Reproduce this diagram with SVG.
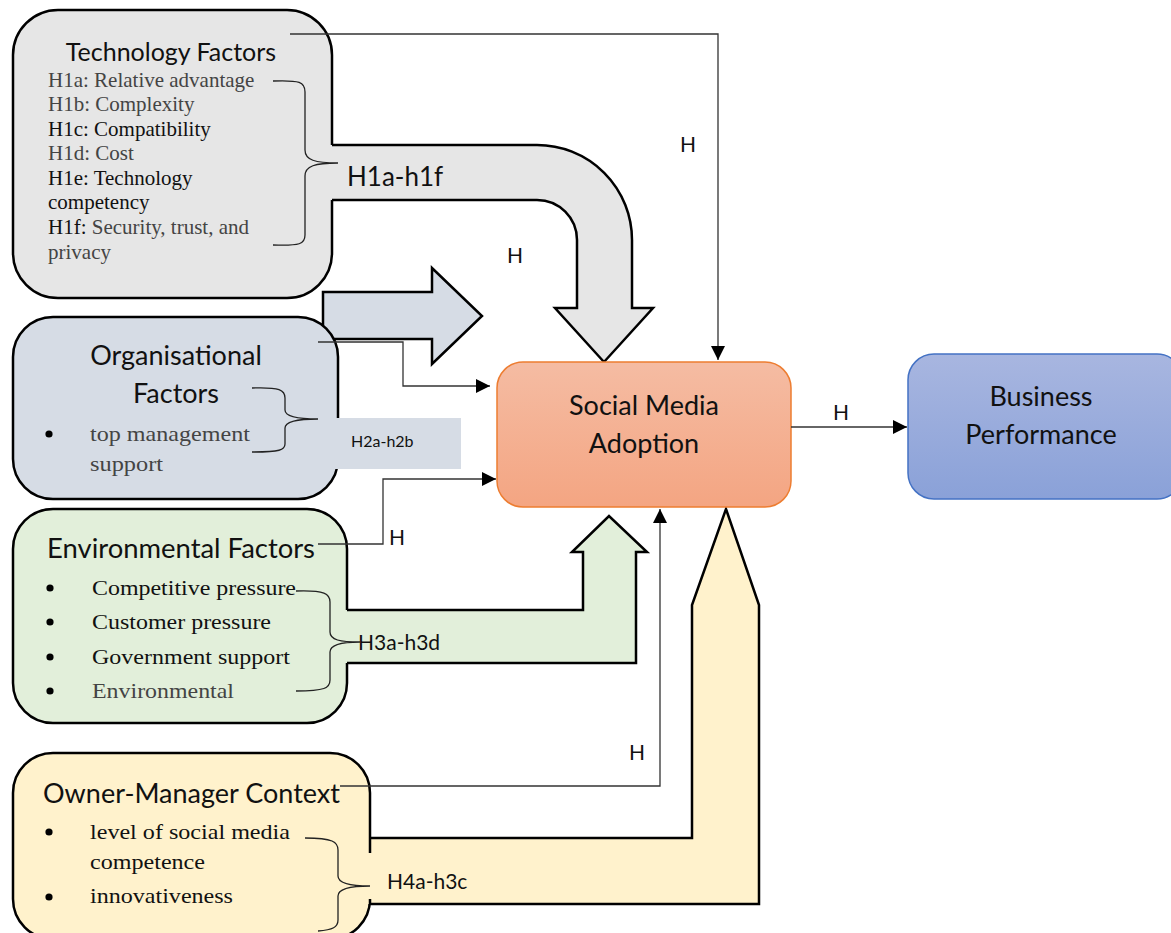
<svg xmlns="http://www.w3.org/2000/svg" width="1171" height="933" viewBox="0 0 1171 933">
<style>
.box{stroke:#000;stroke-width:2.5}
.blk{stroke:#000;stroke-width:2.5;fill:none;stroke-linejoin:miter}
.brace{fill:none;stroke:#222;stroke-width:1.3}
.conn{fill:none;stroke:#333;stroke-width:1.3}
.t{font-family:Lato,"Liberation Sans",sans-serif;fill:#111}
.s{font-family:"Liberation Serif","Times New Roman",serif;font-size:21px;fill:#111}
.s2{font-family:"Liberation Serif","Times New Roman",serif;font-size:22px;fill:#111}
.g{fill:#444}
.lab{font-family:Lato,"Liberation Sans",sans-serif;font-size:21px;fill:#111}
</style>
<defs>
<marker id="ah" markerUnits="userSpaceOnUse" markerWidth="16" markerHeight="16" viewBox="0 0 16 16" refX="15" refY="8" orient="auto">
<path d="M1,1 L15,8 L1,15 Z" fill="#000"/>
</marker>
<linearGradient id="gSMA" x1="0" y1="0" x2="0" y2="1">
<stop offset="0" stop-color="#f5bca3"/>
<stop offset="1" stop-color="#f4a582"/>
</linearGradient>
<linearGradient id="gBP" x1="0" y1="0" x2="0" y2="1">
<stop offset="0" stop-color="#a8b6e0"/>
<stop offset="1" stop-color="#8aa1d8"/>
</linearGradient>
</defs>

<g id="org-arrow">
<polygon points="323,339 323,292 432,292 432,268 482,316 432,364 432,339" fill="#d6dce5" class="box"/>
</g>

<g id="organisational">
<rect x="13" y="317" width="325" height="182" rx="40" fill="#d6dce5" class="box"/>
<text class="t" x="176" y="365" font-size="27" text-anchor="middle">Organisational</text>
<text class="t" x="176" y="403" font-size="27" text-anchor="middle">Factors</text>
<circle cx="49" cy="434" r="3.6" fill="#000"/>
<text class="s2 g" x="90" y="441" textLength="160" lengthAdjust="spacingAndGlyphs">top management</text>
<text class="s2 g" x="90" y="471" textLength="73" lengthAdjust="spacingAndGlyphs">support</text>
<rect x="320" y="418" width="141" height="51" fill="#d6dce5"/>
<path class="brace" d="M252,388 C280,387 285,390 285,398 V410 C285,416 295,419 318,419 C295,419 285,422 285,428 V444 C285,450 280,452 252,452"/>
<text class="t" x="351" y="447" font-size="16">H2a-h2b</text>
</g>

<g id="technology">
<rect x="13" y="10" width="319" height="288" rx="45" fill="#e6e6e6" class="box"/>
<text class="t" x="171" y="61" font-size="25" text-anchor="middle">Technology Factors</text>
<text class="s g" x="48" y="87">H1a: Relative advantage</text>
<text class="s g" x="48" y="111">H1b: Complexity</text>
<text class="s" x="48" y="136">H1c: Compatibility</text>
<text class="s g" x="48" y="160">H1d: Cost</text>
<text class="s" x="48" y="185">H1e: Technology</text>
<text class="s" x="48" y="209">competency</text>
<text class="s" x="48" y="234">H1f: <tspan class="g">Security, trust, and</tspan></text>
<text class="s g" x="48" y="259">privacy</text>
</g>

<g id="tech-arrow">
<path d="M330,145 H537 A95,95 0 0 1 632,240 V308 H653 L604,362 L555,308 H577 V240 A40,40 0 0 0 537,200 H330 Z" fill="#e6e6e6"/>
<path class="blk" d="M332,145 H537 A95,95 0 0 1 632,240 V308 H653 L604,362 L555,308 H577 V240 A40,40 0 0 0 537,200 H332"/>
<path class="brace" d="M273,81 C300,80 305,82 305,92 V150 C305,160 315,163 338,163 C315,163 305,166 305,176 V235 C305,244 300,246 273,245"/>
<text class="t" x="347" y="186" font-size="26">H1a-h1f</text>
</g>

<g id="environmental">
<rect x="13" y="509" width="334" height="214" rx="40" fill="#e2efda" class="box"/>
<text class="t" x="47" y="558" font-size="26" textLength="268" lengthAdjust="spacingAndGlyphs">Environmental Factors</text>
<circle cx="50" cy="588" r="3.6" fill="#000"/>
<circle cx="50" cy="622" r="3.6" fill="#000"/>
<circle cx="50" cy="657" r="3.6" fill="#000"/>
<circle cx="50" cy="691" r="3.6" fill="#000"/>
<text class="s2" x="92" y="595" textLength="204" lengthAdjust="spacingAndGlyphs">Competitive pressure</text>
<text class="s2" x="92" y="629" textLength="179" lengthAdjust="spacingAndGlyphs">Customer pressure</text>
<text class="s2" x="92" y="664" textLength="198" lengthAdjust="spacingAndGlyphs">Government support</text>
<text class="s2 g" x="92" y="698" textLength="142" lengthAdjust="spacingAndGlyphs">Environmental</text>
</g>

<g id="env-arrow">
<path d="M345,610 H583 V552 H572 L609,516 L647,552 H636 V663 H345 Z" fill="#e2efda"/>
<path class="blk" d="M347,610 H583 V552 H572 L609,516 L647,552 H636 V663 H347"/>
<path class="brace" d="M296,591 C325,590 330,594 330,602 V632 C330,640 340,642 360,642 C340,642 330,645 330,652 V680 C330,688 325,691 296,691"/>
<text class="t" x="358" y="650" font-size="21">H3a-h3d</text>
</g>

<g id="owner-manager">
<rect x="13" y="753" width="357" height="186" rx="40" fill="#fff2cc" class="box"/>
<text class="t" x="43" y="803" font-size="26" textLength="297" lengthAdjust="spacingAndGlyphs">Owner-Manager Context</text>
<circle cx="49" cy="832" r="3.6" fill="#000"/>
<circle cx="49" cy="897" r="3.6" fill="#000"/>
<text class="s2" x="90" y="839" textLength="200" lengthAdjust="spacingAndGlyphs">level of social media</text>
<text class="s2" x="90" y="869" textLength="115" lengthAdjust="spacingAndGlyphs">competence</text>
<text class="s2" x="90" y="903" textLength="143" lengthAdjust="spacingAndGlyphs">innovativeness</text>
</g>

<g id="om-arrow">
<path d="M368,838 H692 V605 L726,509 L759,605 V904 H368 Z" fill="#fff2cc"/>
<path class="blk" d="M370,838 H692 V605 L726,509 L759,605 V904 H370"/>
<path class="blk" d="M370,838 V853 M370,899 V904"/>
<path class="brace" d="M305,838 C333,838 338,842 338,850 V876 C338,883 348,886 370,886 C348,886 338,889 338,896 V920 C338,927 333,930 318,931"/>
<text class="t" x="387" y="889" font-size="21">H4a-h3c</text>
</g>

<g id="social-media-adoption">
<rect x="497" y="362" width="294" height="145" rx="26" fill="url(#gSMA)" stroke="#ed7d31" stroke-width="1.5"/>
<text class="t" x="644" y="415" font-size="27" text-anchor="middle">Social Media</text>
<text class="t" x="644" y="453" font-size="27" text-anchor="middle">Adoption</text>
</g>

<g id="business-performance">
<rect x="908" y="354" width="275" height="145" rx="26" fill="url(#gBP)" stroke="#4472c4" stroke-width="1.5"/>
<text class="t" x="1041" y="406" font-size="27" text-anchor="middle">Business</text>
<text class="t" x="1041" y="444" font-size="27" text-anchor="middle">Performance</text>
</g>

<g id="connectors">
<path class="conn" d="M290,34 H718 V360" marker-end="url(#ah)"/>
<path class="conn" d="M318,342 H403 V386 H490" marker-end="url(#ah)"/>
<path class="conn" d="M318,544 H383 V479 H496" marker-end="url(#ah)"/>
<path class="conn" d="M340,786 H660 V509" marker-end="url(#ah)"/>
<path class="conn" d="M791,427 H907" marker-end="url(#ah)"/>
<text class="lab" x="680" y="152" font-size="20">H</text>
<text class="lab" x="507" y="263" font-size="20">H</text>
<text class="lab" x="389" y="545" font-size="20">H</text>
<text class="lab" x="629" y="760" font-size="20">H</text>
<text class="lab" x="833" y="420" font-size="20">H</text>
</g>
</svg>
